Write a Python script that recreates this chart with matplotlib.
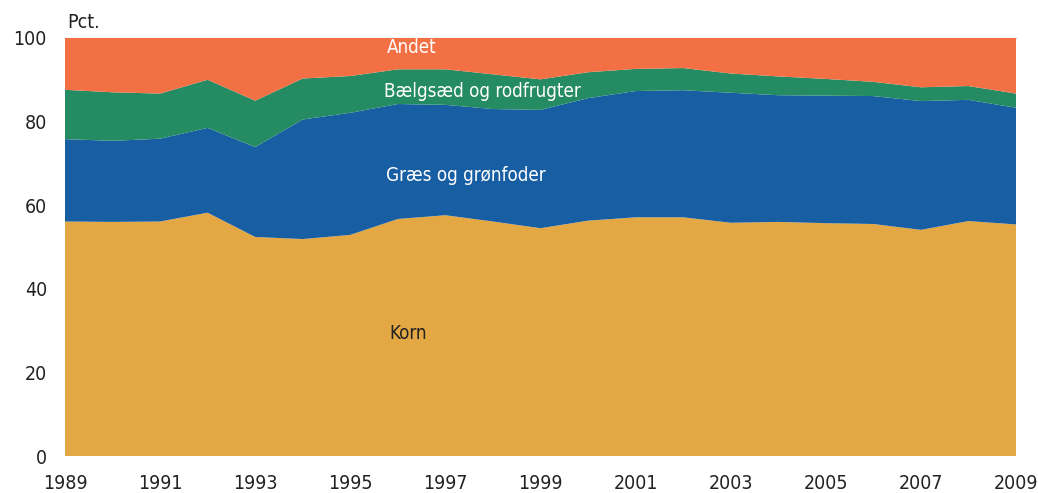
import matplotlib.pyplot as plt

plt.rcParams['font.family'] = ['DejaVu Sans']
plt.rcParams['font.stretch'] = 'condensed'

# Data: share of area by crop (pct.)
years = list(range(1989, 2010))
korn = [56.1, 56.0, 56.1, 58.2, 52.4, 51.9, 52.9, 56.7, 57.6, 56.1, 54.5,
        56.3, 57.1, 57.1, 55.8, 56.0, 55.7, 55.5, 54.1, 56.2, 55.4]
graes_top = [75.8, 75.4, 75.9, 78.5, 73.9, 80.5, 82.1, 84.2, 84.0, 83.0, 82.8,
             85.6, 87.3, 87.5, 86.9, 86.3, 86.2, 86.1, 84.9, 85.2, 83.3]
baelg_top = [87.6, 87.0, 86.7, 90.0, 85.0, 90.3, 90.9, 92.5, 92.5, 91.3, 90.1,
             91.8, 92.6, 92.8, 91.5, 90.8, 90.2, 89.5, 88.2, 88.5, 86.7]

graes = [g - k for g, k in zip(graes_top, korn)]
baelg = [b - g for b, g in zip(baelg_top, graes_top)]
andet = [100 - b for b in baelg_top]

labels = ["Korn", "Græs og grønfoder", "Bælgsæd og rodfrugter", "Andet"]
colors = ["#E3A844", "#175EA2", "#258B62", "#F27043"]

fig = plt.figure(figsize=(10.38, 4.93), dpi=100)
ax = fig.add_axes([0.0626, 0.075, 0.9162, 0.848])

ax.stackplot(years, korn, graes, baelg, andet, colors=colors, linewidth=0)

ax.set_xlim(1989, 2009)
ax.set_ylim(0, 100)
ax.set_xticks(range(1989, 2010, 2))
ax.set_yticks(range(0, 101, 20))
ax.tick_params(length=0, labelsize=14, colors="#222222")
ax.tick_params(axis="x", pad=13)
ax.tick_params(axis="y", pad=13)
for s in ax.spines.values():
    s.set_visible(False)
ax.axhline(100, color="#d0d0d0", lw=1, zorder=0, clip_on=False)

ax.text(0.002, 1.015, "Pct.", transform=ax.transAxes, fontsize=14,
        color="#222222", ha="left", va="bottom")

ax.text(1995.76, 97.6, "Andet", color="white", fontsize=13.5, va="center")
ax.text(1995.7, 87.1, "Bælgsæd og rodfrugter", color="white", fontsize=13.5,
        va="center")
ax.text(1995.76, 67.0, "Græs og grønfoder", color="white", fontsize=13.5,
        va="center")
ax.text(1995.82, 29.4, "Korn", color="#222222", fontsize=13.5, va="center")

fig.savefig("out.png", dpi=100)
